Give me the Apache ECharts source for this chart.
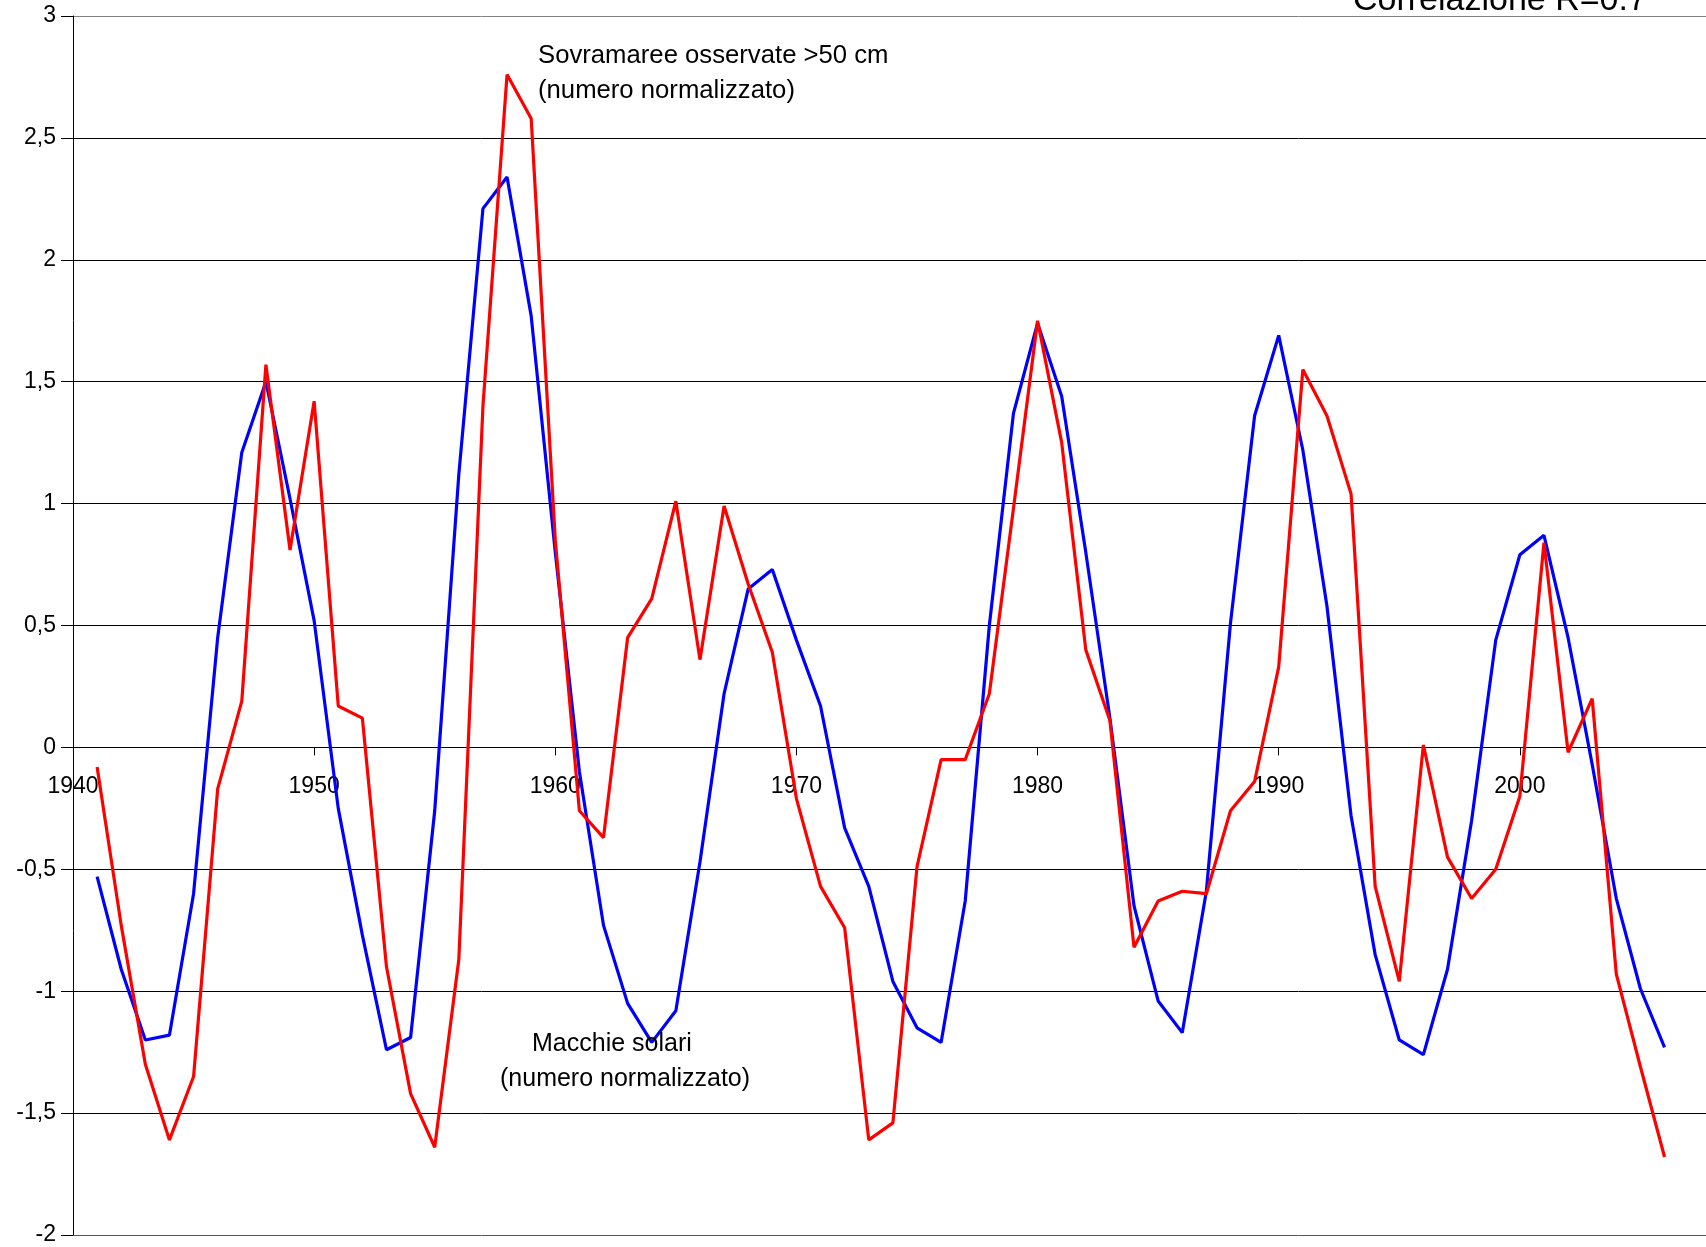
<!DOCTYPE html>
<html>
<head>
<meta charset="utf-8">
<script src="https://cdn.jsdelivr.net/npm/echarts@6/dist/echarts.min.js"></script>
<style>
  html, body { margin: 0; padding: 0; background: #fff; }
  #chart { width: 1706px; height: 1247px; }
</style>
</head>
<body>
<div id="chart"></div>
<script>
const years = [1941, 1942, 1943, 1944, 1945, 1946, 1947, 1948, 1949, 1950,
  1951, 1952, 1953, 1954, 1955, 1956, 1957, 1958, 1959, 1960,
  1961, 1962, 1963, 1964, 1965, 1966, 1967, 1968, 1969, 1970,
  1971, 1972, 1973, 1974, 1975, 1976, 1977, 1978, 1979, 1980,
  1981, 1982, 1983, 1984, 1985, 1986, 1987, 1988, 1989, 1990,
  1991, 1992, 1993, 1994, 1995, 1996, 1997, 1998, 1999, 2000,
  2001, 2002, 2003, 2004, 2005, 2006];

// Macchie solari (numero normalizzato) - blue
const macchieSolari = [-0.53, -0.91, -1.20, -1.18, -0.60, 0.45, 1.21, 1.50, 1.02, 0.52,
  -0.25, -0.77, -1.24, -1.19, -0.26, 1.12, 2.21, 2.34, 1.77, 0.80,
  -0.10, -0.73, -1.05, -1.21, -1.08, -0.47, 0.22, 0.65, 0.73, 0.44,
  0.17, -0.33, -0.57, -0.96, -1.15, -1.21, -0.63, 0.50, 1.37, 1.74,
  1.44, 0.80, 0.12, -0.65, -1.04, -1.17, -0.59, 0.51, 1.36, 1.69,
  1.22, 0.58, -0.28, -0.85, -1.20, -1.26, -0.91, -0.30, 0.44, 0.79,
  0.87, 0.45, -0.07, -0.62, -0.99, -1.23];

// Sovramaree osservate >50 cm (numero normalizzato) - red
const sovramaree = [-0.08, -0.73, -1.30, -1.61, -1.35, -0.17, 0.19, 1.57, 0.81, 1.42,
  0.17, 0.12, -0.90, -1.42, -1.64, -0.87, 1.40, 2.76, 2.58, 0.85,
  -0.26, -0.37, 0.45, 0.61, 1.01, 0.36, 0.99, 0.67, 0.39, -0.21,
  -0.57, -0.74, -1.61, -1.54, -0.49, -0.05, -0.05, 0.22, 0.98, 1.75,
  1.25, 0.40, 0.11, -0.82, -0.63, -0.59, -0.60, -0.26, -0.14, 0.33,
  1.55, 1.36, 1.04, -0.57, -0.96, 0.01, -0.45, -0.62, -0.50, -0.20,
  0.84, -0.02, 0.20, -0.93, -1.31, -1.68];

const labelSovramaree = 'Sovramaree osservate >50 cm\n(numero normalizzato)';
const labelMacchie1 = 'Macchie solari';
const labelMacchie2 = '(numero normalizzato)';
const labelCorrelazione = 'Correlazione R=0.7';

const FONT = '"Liberation Sans", Arial, Helvetica, sans-serif';

const W = 1706, H = 1247;
const GRID_LEFT = 73, GRID_TOP = 16, GRID_BOTTOM = 12, GRID_RIGHT = -55;
const Y_MIN = -2, Y_MAX = 3;
const plotH = H - GRID_TOP - GRID_BOTTOM;
// distance from the bottom edge of the plot to the zero line
const zeroOffset = plotH * (0 - Y_MIN) / (Y_MAX - Y_MIN);

const chart = echarts.init(document.getElementById('chart'), null, { renderer: 'canvas' });

const splitColors = ['#555555', '#000', '#000', '#000', '#000', '#000', '#000', '#000', '#000', '#000', '#808080'];

chart.setOption({
  animation: false,
  backgroundColor: '#ffffff',
  grid: {
    left: GRID_LEFT, top: GRID_TOP, right: GRID_RIGHT, bottom: GRID_BOTTOM,
    containLabel: false, outerBoundsMode: 'none'
  },
  xAxis: {
    type: 'value',
    min: 1940,
    max: 2010,
    interval: 10,
    position: 'bottom',
    offset: -zeroOffset,
    axisLine: { show: true, onZero: false, lineStyle: { color: '#000', width: 1 } },
    axisTick: { show: true, length: 8, lineStyle: { color: '#000', width: 1 } },
    axisLabel: {
      fontSize: 23, color: '#000', margin: 28, fontFamily: FONT,
      formatter: v => String(v)
    },
    splitLine: { show: false }
  },
  yAxis: {
    type: 'value',
    min: Y_MIN,
    max: Y_MAX,
    interval: 0.5,
    axisLine: { show: true, lineStyle: { color: '#000', width: 1 } },
    axisTick: { show: true, length: 12, inside: false, lineStyle: { color: '#000', width: 1 } },
    axisLabel: {
      fontSize: 23, color: '#000', margin: 17, fontFamily: FONT,
      formatter: v => String(v).replace('.', ',')
    },
    splitLine: { show: true, lineStyle: { color: splitColors, width: 1 } }
  },
  series: [
    {
      name: 'Macchie solari',
      type: 'line',
      data: years.map((y, i) => [y, macchieSolari[i]]),
      symbol: 'none',
      lineStyle: { color: '#0000ff', width: 3.2 },
      z: 2
    },
    {
      name: 'Sovramaree',
      type: 'line',
      data: years.map((y, i) => [y, sovramaree[i]]),
      symbol: 'none',
      lineStyle: { color: '#ff0000', width: 3.2 },
      z: 3
    }
  ],
  graphic: [
    {
      type: 'text', left: 538, top: 38, z: 10,
      style: { text: labelSovramaree, font: '25.7px ' + FONT, fill: '#000', lineHeight: 35 }
    },
    {
      type: 'text', left: 532, top: 1027, z: 10,
      style: { text: labelMacchie1, font: '25px ' + FONT, fill: '#000', lineHeight: 35 }
    },
    {
      type: 'text', left: 500, top: 1062, z: 10,
      style: { text: labelMacchie2, font: '25px ' + FONT, fill: '#000', lineHeight: 35 }
    },
    {
      type: 'text', left: 1353, top: -19, z: 10,
      style: { text: labelCorrelazione, font: '34px ' + FONT, fill: '#000', lineHeight: 40 }
    }
  ]
});
</script>
</body>
</html>
